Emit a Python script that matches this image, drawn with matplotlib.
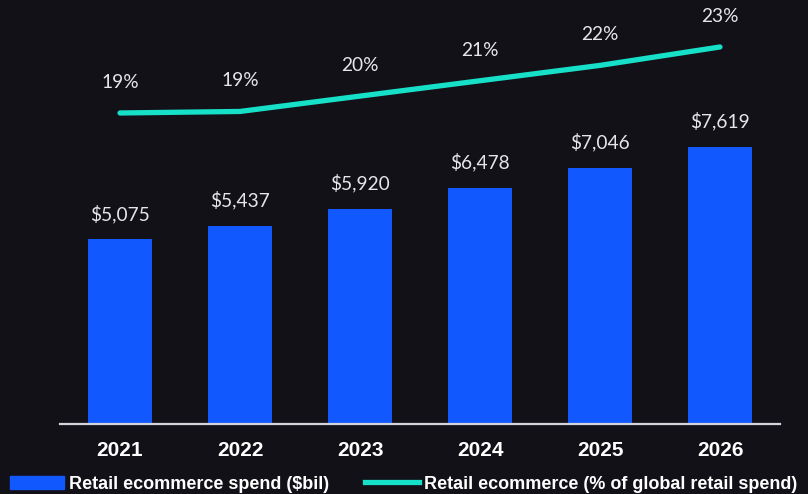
import matplotlib
matplotlib.use("Agg")
import matplotlib.pyplot as plt
from matplotlib.patches import Patch
from matplotlib.lines import Line2D

years = ["2021", "2022", "2023", "2024", "2025", "2026"]
spend_bil = [5075, 5437, 5920, 6478, 7046, 7619]
share_pct = [18.8, 18.9, 19.9, 20.9, 21.9, 23.1]

BG = "#121118"
BAR = "#1158ff"
LINE = "#17e0c8"
TXT = "#e6e6ea"

fig = plt.figure(figsize=(8.08, 4.94), dpi=100, facecolor=BG)
ax = fig.add_axes([60 / 808, 70 / 494, 720 / 808, 424 / 494])
ax.set_facecolor(BG)

x = list(range(len(years)))
ax.bar(x, spend_bil, width=0.54, color=BAR, zorder=2)
ax.set_xlim(-0.5, 5.5)
ax.set_ylim(0, 11650)

for xi, v in zip(x, spend_bil):
    ax.annotate(f"${v:,}", (xi, v), xytext=(0, 18.5), textcoords="offset points",
                ha="center", va="center", color=TXT, fontsize=13.8, family="Lato")

for s in ["top", "right", "left"]:
    ax.spines[s].set_visible(False)
ax.spines["bottom"].set_color("#d4d4dc")
ax.spines["bottom"].set_linewidth(1.6)
ax.set_yticks([])
ax.set_xticks(x)
ax.set_xticklabels(years, color="white", fontsize=15, fontweight="bold",
                   family="Liberation Sans")
ax.tick_params(axis="x", length=0, pad=12)

ax2 = ax.twinx()
ax2.set_ylim(-1.46, 26.16)
ax2.plot(x, share_pct, color=LINE, lw=3.8, solid_capstyle="round", zorder=3)
for xi, v in zip(x, share_pct):
    ax2.annotate(f"{v:.0f}%", (xi, v), xytext=(0, 22), textcoords="offset points",
                 ha="center", va="center", color=TXT, fontsize=13.8, family="Lato")
ax2.set_yticks([])
for s in ax2.spines.values():
    s.set_visible(False)

handles = [Patch(color=BAR), Line2D([0], [0], color=LINE, lw=3.8)]
labels = ["Retail ecommerce spend ($bil)", "Retail ecommerce (% of global retail spend)"]
leg = fig.legend(handles, labels, loc="center left", bbox_to_anchor=(10 / 808, 10 / 494),
                 ncol=2, frameon=False, handlelength=3.0, handleheight=0.75,
                 handletextpad=0.25, columnspacing=2.0, borderpad=0, borderaxespad=0,
                 prop={"family": "Liberation Sans", "weight": "bold", "size": 13})
for t in leg.get_texts():
    t.set_color("white")

fig.savefig("out.png", dpi=100, facecolor=BG)
